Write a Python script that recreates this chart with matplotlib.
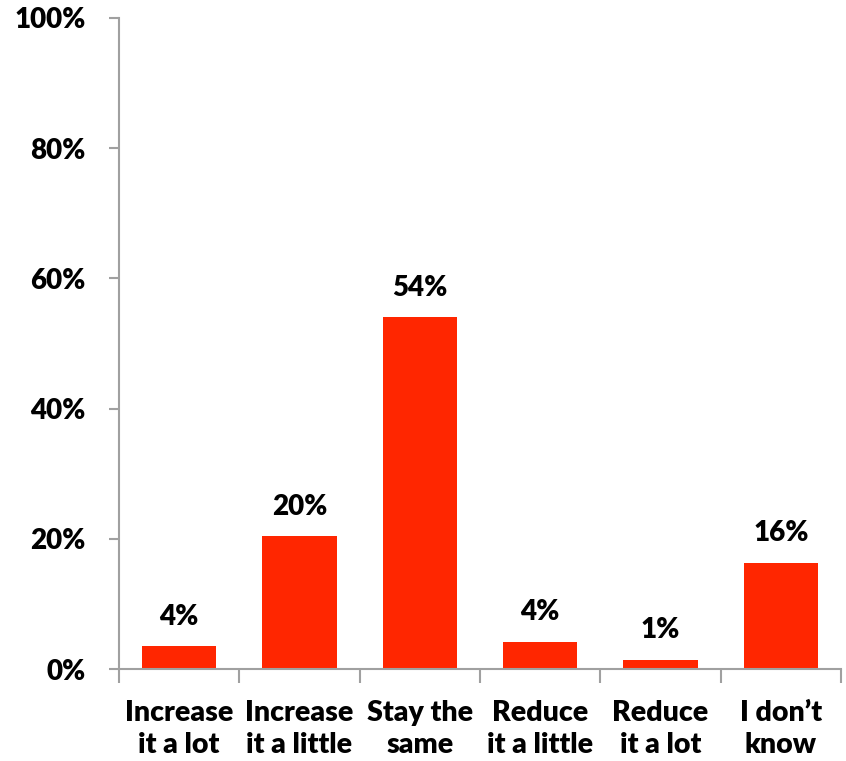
import matplotlib.pyplot as plt
from matplotlib.ticker import FuncFormatter

plt.rcParams['font.family'] = ['Lato', 'DejaVu Sans']
plt.rcParams['font.weight'] = 'heavy'

# Survey answers and their shares (%)
categories = ['Increase\nit a lot', 'Increase\nit a little', 'Stay the\nsame',
              'Reduce\nit a little', 'Reduce\nit a lot', 'I don\u2019t\nknow']
shares = [3.5, 20.4, 54.0, 4.2, 1.4, 16.3]

fig = plt.figure(figsize=(8.46, 7.61), dpi=100)
ax = fig.add_axes([119 / 846, 92 / 761, 722 / 846, 651 / 761])

x = range(len(categories))
bars = ax.bar(x, shares, width=0.62, color='#ff2600', zorder=2)

for rect, v in zip(bars, shares):
    ax.annotate(f'{round(v)}%', (rect.get_x() + rect.get_width() / 2, v),
                xytext=(0, 12), textcoords='offset points',
                ha='center', va='bottom', fontsize=20, fontweight='heavy')

ax.set_xlim(-0.5, len(categories) - 0.5)
ax.set_ylim(0, 100)
ax.set_yticks([0, 20, 40, 60, 80, 100])
ax.yaxis.set_major_formatter(FuncFormatter(lambda v, _: f'{v:.0f}%'))
ax.tick_params(axis='y', labelsize=20, length=7, width=1.5, color='#a0a0a0', pad=17)

# category labels sit between the boundary ticks
ax.set_xticks([i - 0.5 for i in range(len(categories) + 1)])
ax.set_xticklabels([])
ax.set_xticks(list(x), minor=True)
ax.set_xticklabels(categories, minor=True, fontsize=20.5, linespacing=1.3)
ax.tick_params(axis='x', which='major', length=10, width=1.5, color='#a0a0a0')
ax.tick_params(axis='x', which='minor', length=0, pad=22)

for side in ['top', 'right']:
    ax.spines[side].set_visible(False)
for side in ['left', 'bottom']:
    ax.spines[side].set_color('#a0a0a0')
    ax.spines[side].set_linewidth(1.5)

fig.savefig('out.png', dpi=100)
